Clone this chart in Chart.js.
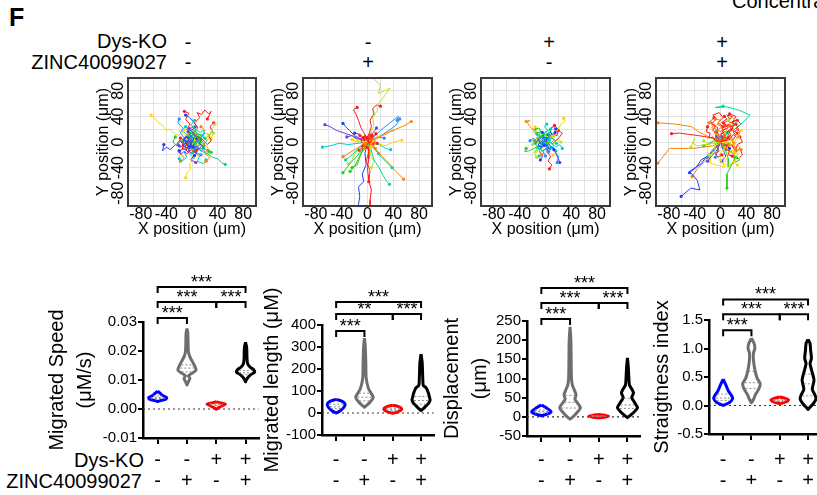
<!DOCTYPE html>
<html>
<head>
<meta charset="utf-8">
<title>Cell migration tracks and violin plots</title>
<script src="https://cdn.jsdelivr.net/npm/chart.js@4.4.1/dist/chart.umd.min.js"></script>
<style>
html, body { margin: 0; padding: 0; background: #fff; overflow: hidden; }
#fig { position: relative; width: 817px; height: 495px; overflow: hidden; font-family: 'Liberation Sans', Arial, sans-serif; color: #000; }
#fig canvas { position: absolute; left: 0; top: 0; }
.lbl { position: absolute; font-size: 20px; line-height: 20px; white-space: nowrap; }
.right { text-align: right; }
.sign { text-align: center; width: 30px; margin-left: -15px; }
</style>
</head>
<body>
<div id="fig">
  <div class="lbl" style="left:9px;top:5px;font-size:25px;line-height:25px;font-weight:bold;">F</div>
  <div class="lbl" style="left:732px;top:-9px;">Concentration</div>
  <div class="lbl right" style="left:0;width:167px;top:31px;">Dys-KO</div>
  <div class="lbl right" style="left:0;width:167px;top:52px;">ZINC40099027</div>
  <div class="lbl right" style="left:0;width:144px;top:450px;">Dys-KO</div>
  <div class="lbl right" style="left:0;width:142px;top:471px;">ZINC40099027</div>
</div>
<script>
// ---- groups ----
const dysKO = ['-', '-', '+', '+'];
const zinc = ['-', '+', '-', '+'];

// ---- track plots (um), each track is a flat x,y list starting at the origin ----
const trackGrid = [-100, -80, -60, -40, -20, 0, 20, 40, 60, 80, 100];
const trackTicks = [-80, -40, 0, 40, 80];

const tracksCtrl = [
  [0,0, 5,8, 2,15, 9,22, 4,30, 12,38, 8,46, 15,43, 20,50, 26,44, 30,48, 24,36],
  [0,0, 10,-6, 18,-2, 25,-10, 20,-18, 28,-24, 22,-30],
  [0,0, -8,5, -14,2, -20,10, -28,14, -35,20, -40,18, -46,26, -52,30, -58,37, -64,42],
  [0,0, 12,6, 20,14, 28,10, 32,22, 36,28],
  [0,0, -10,-4, -18,2, -24,-6, -30,0, -26,8],
  [0,0, 6,-8, 14,-14, 24,-18, 32,-24, 40,-26, 46,-32, 52,-35],
  [0,0, -6,-10, -12,-16, -8,-24, -16,-30, -20,-26],
  [0,0, -12,6, -18,14, -14,22, -22,30, -20,36],
  [0,0, -10,-2, -18,-8, -26,-4, -34,-12, -40,-8, -46,-14, -44,-4],
  [0,0, -6,-14, 4,-20, -2,-28, 6,-32],
  [0,0, -4,10, -8,20, -3,28, -10,35, -5,45, -12,48],
  [0,0, -14,-8, -20,-18, -12,-24, -18,-30],
  [0,0, 4,-10, -2,-18, 3,-26, -4,-34, -2,-42, -8,-48, -10,-56],
  [0,0, 14,10, 22,4, 26,12, 30,6, 34,14],
  [0,0, 8,-12, 16,-10, 22,-18, 30,-16],
  [0,0, -4,14, 6,20, -2,26, 4,34],
  [0,0, -14,4, -8,12, -16,18, -10,24],
  [0,0, 10,2, 4,-6, 12,-10, 6,-16, 14,-20],
  [0,0, 6,12, -2,18, 8,24, 2,32, -4,38, -10,42],
  [0,0, 6,-4, -4,-10, -10,-2, -6,8, 4,12, 12,6],
  [0,0, 16,4, 24,-4, 30,2, 26,10, 32,16, 28,24, 34,30],
  [0,0, 8,14, 16,8, 20,18, 14,24],
  [0,0, 12,-2, 18,6, 24,2, 28,10, 24,14, 30,4],
  [0,0, -6,6, -12,-2, -18,4, -22,-4],
  [0,0, -8,-8, 2,-12, 10,-6, 14,4, 6,10, 18,-10, 26,-14],
  [0,0, 4,-16, 12,-22, 8,-30, 18,-34, 22,-28],
  [0,0, -2,-8, 6,-14, -4,-18, 2,-24],
  [0,0, -8,10, 2,14, -6,20, 4,24],
  [0,0, 4,6, -4,8, -8,2, -4,-6, 6,-4, 10,4, 2,12, -6,16],
  [0,0, -10,8, -16,0, -12,-10, -20,-14]
];
const blobCtrl = [
  [0,0, 3,5, -2,9, -6,5, -9,9, -13,4, -9,-1, -14,-5, -8,-9, -3,-5, 2,-8],
  [0,0, -3,-5, 2,-9, 7,-6, 11,-11, 15,-6, 11,-1, 16,3, 12,8, 7,5],
  [0,0, 5,-2, 9,3, 5,8, 10,12, 5,16, 1,12, -4,16, -7,11, -3,6],
  [0,0, -5,2, -9,-3, -5,-8, -10,-12, -6,-16, -1,-12, 3,-17, 7,-13],
  [0,0, 2,6, 7,9, 3,14, 8,18, 13,15, 17,19, 20,14, 16,10],
  [0,0, -2,-6, -7,-9, -3,-14, -8,-18, -13,-15, -17,-19, -20,-14],
  [0,0, 6,3, 3,8, -3,7, -6,12, -11,10, -15,14, -12,19],
  [0,0, -6,-3, -3,-8, 3,-7, 6,-12, 11,-10, 15,-14, 18,-9],
  [0,0, 4,-4, 8,0, 12,-4, 16,1, 19,-3, 23,2, 20,6],
  [0,0, -4,4, -8,0, -12,4, -16,-1, -19,3, -23,-2, -20,-6],
  [0,0, 3,-3, 0,-7, 5,-10, 2,-14, 7,-17, 4,-21],
  [0,0, -3,3, 0,7, -5,10, -2,14, -7,17, -4,21],
  [0,0, 7,-1, 5,5, 11,6, 9,12, 15,11, 13,-3, 18,-6],
  [0,0, -7,1, -5,-5, -11,-6, -9,-12, -15,-11, -13,3, -18,6],
  [0,0, 2,2, 6,-2, 4,-6, 8,-8, 12,-4, 10,2, 6,4, 2,8],
  [0,0, -2,-2, -6,2, -4,6, -8,8, -12,4, -10,-2, -6,-4, -2,-8]
];

const tracksZinc = [
  [0,0, 6,4, -2,8, 2,-15, -2,-30, 4,-45, 2,-60, 6,-75, 4,-90, 4,-104],
  [0,0, 12,-10, 22,-22, 34,-34, 44,-46, 56,-58],
  [0,0, 14,-2, 28,-6, 40,0, 53,3],
  [0,0, 4,12, 10,26, 8,38, 16,50, 14,56, 22,66, 35,84, 17,76, 20,89, 8,100, 6,106],
  [0,0, -8,-12, -16,-22, -24,-30, -32,-40, -38,-48],
  [0,0, 6,-14, 10,-28, 18,-40, 24,-52, 30,-62, 34,-66],
  [0,0, -14,-2, -30,-4, -44,-2, -58,-6, -70,-8],
  [0,0, 10,8, 20,18, 30,26, 40,34, 48,40, 46,34],
  [0,0, -4,-18, -2,-35, -8,-50, -6,-62, -14,-70, -12,-85, -15,-104],
  [0,0, -12,4, -24,10, -36,14, -48,18, -58,24, -66,27],
  [0,0, 2,12, 6,24, 4,34, 10,44, 8,52, 14,58, 20,56],
  [0,0, 16,6, 30,14, 44,20, 58,26, 68,32],
  [0,0, 10,6, 20,10, 30,12, 38,18],
  [0,0, -10,-8, -18,-16, -24,-28, -30,-34],
  [0,0, -8,-14, -14,-26, -20,-38, -27,-46],
  [0,0, 8,-8, 14,-14, 18,-20, 24,-26, 32,-34, 38,-40],
  [0,0, 6,-6, 12,-12, 17,-18],
  [0,0, 12,6, 24,12, 36,20, 44,26, 50,36],
  [0,0, -10,4, -20,10, -28,18, -34,24, -38,29],
  [0,0, -8,6, -16,4, -24,10, -32,8],
  [0,0, -4,12, -10,22, -14,34, -18,44, -22,50, -16,54],
  [0,0, -10,-6, -20,-12, -30,-18, -38,-23],
  [0,0, -8,2, -16,0, -24,4],
  [0,0, 6,-10, 4,-20, 10,-30, 6,-40],
  [0,0, -6,-10, -12,-24, -16,-36, -24,-40],
  [0,0, -10,-6, -18,-14, -26,-22, -34,-28],
  [0,0, 8,-2, 18,-4, 28,-10, 36,-12],
  [0,0, 8,4, 16,8, 26,6],
  [0,0, -6,6, -12,12, -20,14],
  [0,0, 4,10, 10,16, 14,22],
  [0,0, -8,6, 4,10, -6,-6, 10,-4, 2,-12, 2,-26, 0,-40, 1,-52, 2,-62]
];
const blobZinc = [
  [0,0, 3,4, -2,6, -5,2, -8,5, -10,1, -6,-3, -9,-7, -4,-6, 0,-9],
  [0,0, -2,-4, 3,-6, 6,-3, 9,-7, 12,-3, 8,0, 12,3, 8,6, 4,3],
  [0,0, 4,-1, 7,3, 3,6, 7,9, 3,12, -1,8, -4,11, -6,7],
  [0,0, -4,1, -7,-3, -3,-6, -7,-9, -3,-12, 1,-8, 4,-11, 6,-7],
  [0,0, 2,5, 6,7, 2,10, 6,13, 10,10, 13,13],
  [0,0, -2,-5, -6,-7, -2,-10, -6,-13, -10,-10, -13,-13],
  [0,0, 5,2, 2,6, -3,5, -5,9, -9,7, -12,10],
  [0,0, -5,-2, -2,-6, 3,-5, 5,-9, 9,-7, 12,-10],
  [0,0, 3,-3, 6,0, 9,-3, 12,1, 15,-2],
  [0,0, -3,3, -6,0, -9,3, -12,-1, -15,2],
  [0,0, 6,1, 4,5, 9,5, 7,9],
  [0,0, -6,-1, -4,-5, -9,-5, -7,-9]
];

const tracksKO = [
  [0,0, 4,-8, 2,-16, 8,-22, 4,-30, 10,-36, 6,-42],
  [0,0, -6,6, -12,12, -18,18, -24,24, -28,30, -24,34, -30,32],
  [0,0, 8,6, 14,14, 20,20, 24,28, 30,32, 28,37],
  [0,0, -8,-4, -14,2, -20,-4],
  [0,0, -10,-6, -18,-10, -26,-14, -32,-15, -30,-10],
  [0,0, 6,10, 0,16, 8,20],
  [0,0, -4,12, 4,18, -2,24, 2,28],
  [0,0, 8,-6, 14,-14, 20,-22, 18,-32],
  [0,0, 6,-4, 12,-10, 16,-18, 20,-26, 22,-32],
  [0,0, -6,-4, -10,4, -16,0],
  [0,0, 10,6, 16,2, 22,8, 26,14, 20,18],
  [0,0, -4,-8, -10,-14, -6,-20],
  [0,0, -10,4, -14,12, -20,16, -16,24],
  [0,0, 12,-4, 18,4, 24,0],
  [0,0, 2,10, -6,14, -10,22, -16,20],
  [0,0, -8,-12, -2,-18, -10,-22],
  [0,0, 10,-2, 16,-8, 22,-4, 26,-10],
  [0,0, -12,-2, -18,6, -24,2],
  [0,0, 4,8, 10,12, 6,20, 12,24, 16,20],
  [0,0, 6,4, 2,-6, -4,-2],
  [0,0, 12,12, 18,10, 20,20, 14,26],
  [0,0, -6,10, -12,6],
  [0,0, 8,-10, 4,-16, 12,-20],
  [0,0, -12,-10, -18,-16, -14,-24],
  [0,0, -4,6, -10,10, -8,16, -14,14],
  [0,0, 6,-12, 12,-8, 16,-14],
  [0,0, -8,2, -4,-6, -12,-8, -16,-2],
  [0,0, 2,-10, -4,-14, 0,-22],
  [0,0, -6,-6, -10,-14, -4,-22, -8,-28],
  [0,0, 10,8, 4,12]
];
const blobKO = [
  [0,0, 3,5, -2,8, -6,4, -9,7, -12,3, -8,-1, -12,-5, -7,-8, -2,-5],
  [0,0, -3,-5, 2,-8, 6,-5, 10,-9, 13,-5, 9,-1, 13,3, 9,7, 5,4],
  [0,0, 5,-2, 8,3, 4,7, 8,11, 4,14, 0,10, -4,13, -6,9],
  [0,0, -5,2, -8,-3, -4,-7, -8,-11, -4,-14, 0,-10, 4,-14, 7,-10],
  [0,0, 2,5, 6,8, 2,12, 7,15, 11,12, 15,15],
  [0,0, -2,-5, -6,-8, -2,-12, -7,-15, -11,-12, -15,-15],
  [0,0, 5,2, 2,7, -3,6, -5,10, -10,8, -13,12],
  [0,0, -5,-2, -2,-7, 3,-6, 5,-10, 10,-8, 13,-12],
  [0,0, 4,-3, 7,0, 11,-3, 14,1, 17,-2],
  [0,0, -4,3, -7,0, -11,3, -14,-1, -17,2],
  [0,0, 2,-3, 0,-6, 4,-9, 1,-12, 5,-15],
  [0,0, -2,3, 0,6, -4,9, -1,12, -5,15],
  [0,0, 6,-1, 4,4, 9,5, 8,10, 12,9],
  [0,0, -6,1, -4,-4, -9,-5, -8,-10, -12,-9]
];

const tracksKOZinc = [
  [0,0, 8,10, 2,18, 12,22, 6,30, 14,36, 10,42, 18,40, 12,32, 22,28, 16,20, 26,14],
  [0,0, -10,4, -22,10, -34,16, -45,24, -70,28, -97,30],
  [0,0, 6,-10, -2,-20, 10,-26, 4,-34, 14,-38, 20,-30, 26,-36],
  [0,0, -12,-2, -24,-4, -36,-6, -43,-2, -40,6, -46,-8],
  [0,0, 8,-14, 12,-26, 12,-39, 18,-34, 30,-28, 24,-22, 10,-50, 10,-72],
  [0,0, 8,12, 16,18, 20,19, 30,26, 46,42, 28,50, 10,55, -8,54, 4,56],
  [0,0, -6,-8, -12,-16, -18,-20],
  [0,0, -8,-10, -14,-18, -20,-24],
  [0,0, -8,-8, -14,-16, -22,-23, -30,-34, -48,-46, -36,-60, -32,-75, -46,-72, -61,-85],
  [0,0, -6,-14, -14,-22, -20,-30],
  [0,0, -10,6, -22,8, -34,10, -50,12, -64,14, -76,13],
  [0,0, -12,-6, -26,-8, -43,-10, -60,-10, -79,-10, -97,-33],
  [0,0, -6,-12, -16,-22, -16,-33, -6,-36, 7,-39, 0,-28],
  [0,0, -12,-2, -18,-4, -26,2],
  [0,0, -10,2, -18,-2, -26,-6],
  [0,0, 4,8, 10,14],
  [0,0, 6,-6, 12,-4],
  [0,0, -4,-12, -8,-24],
  [0,0, -10,-12, -20,-22, -30,-28, -38,-40, -48,-48],
  [0,0, 4,-8],
  [0,0, 14,4, 20,12, 26,6, 30,16, 24,22, 32,28, 26,34, 18,30, 24,40, 14,44],
  [0,0, 10,-8, 18,-4, 24,-12],
  [0,0, 12,-14, 20,-20, 28,-18, 22,-28],
  [0,0, 8,4, 14,-2],
  [0,0, 10,-10, 18,-16, 24,-24],
  [0,0, 6,-4],
  [0,0, 2,-8, 8,-12],
  [0,0, -2,10, -6,16],
  [0,0, 4,-12, 8,-22, 2,-30],
  [0,0, -6,8],
  [0,0, -8,12, -4,22, -14,28, -6,36, -12,42, -2,46, 4,38, -4,30, 4,24],
  [0,0, 16,10, 20,0],
  [0,0, 14,-6, 22,-2],
  [0,0, -6,10],
  [0,0, 12,8],
  [0,0, -4,6],
  [0,0, 4,4],
  [0,0, 6,10],
  [0,0, 8,-4, 14,-10],
  [0,0, 2,8],
  [0,0, 18,-6, 24,-16, 30,-10, 34,-20, 28,-26, 20,-24, 26,-4, 34,0, 30,8],
  [0,0, -14,-14, -24,-30, -36,-42, -44,-54]
];
const blobKOZinc = [
  [0,0, 4,6, 0,12, 6,16, 2,22, 8,26, 4,32, 10,36, 6,40],
  [0,0, 8,4, 14,10, 10,16, 18,18, 14,24, 22,26, 18,32, 26,34],
  [0,0, -6,6, -2,12, -10,14, -6,20, -14,22, -10,28, -18,30],
  [0,0, 10,-2, 16,4, 22,0, 26,8, 30,4, 28,14, 32,18],
  [0,0, 4,-6, 10,-4, 8,-12, 14,-14, 12,-20, 18,-22],
  [0,0, -4,-4, -10,-2, -8,-10, -14,-12, -12,-18, -18,-20],
  [0,0, 6,8, 12,4, 16,12, 12,18, 20,22, 14,28, 8,24, 4,30],
  [0,0, -2,8, 4,14, -4,18, 2,24, -6,28, 0,34, -8,36],
  [0,0, 12,6, 18,2, 24,10, 20,16, 28,20, 24,28],
  [0,0, -8,2, -12,8, -18,6, -16,14, -22,16, -20,24],
  [0,0, 6,2, 2,6, 8,10, 4,14, 10,18, 6,22, 12,26],
  [0,0, 2,-4, 8,-8, 4,-14, 10,-18, 16,-12, 22,-16],
  [0,0, -6,-8, -2,-14, -8,-18, -4,-24, 2,-20],
  [0,0, 14,14, 20,20, 16,26, 24,30, 20,38, 12,34],
  [0,0, -4,14, -12,18, -8,26, -16,32, -10,38],
  [0,0, 10,0, 14,-6, 20,-4, 24,-10, 28,-6, 32,-12]
];

// ---- violin plots: each shape is [value, half width in group units], top to bottom ----
const speedTicks = [-0.01, 0, 0.01, 0.02, 0.03];
const speedShapes = [
  [[0.0062,0],[0.0055,0.08],[0.0048,0.15],[0.0043,0.24],[0.0039,0.31],[0.0034,0.28],[0.003,0.14],[0.0026,0]],
  [[0.0278,0],[0.026,0.03],[0.0198,0.05],[0.018,0.1],[0.0157,0.22],[0.0134,0.31],[0.0123,0.17],[0.0114,0.05],[0.0106,0.1],[0.0094,0.05],[0.0083,0]],
  [[0.0025,0],[0.0021,0.15],[0.0017,0.31],[0.0012,0.22],[0.0006,0.1],[-0.0001,0]],
  [[0.023,0],[0.021,0.04],[0.0175,0.05],[0.0157,0.07],[0.0145,0.15],[0.0135,0.28],[0.0127,0.31],[0.0118,0.17],[0.0106,0.06],[0.0094,0]]
];
const speedQuart = [[0.0036, 0.004, 0.0045], [0.0128, 0.0141, 0.0152], [0.0012, 0.0015, 0.0018], [0.0118, 0.0125, 0.0133]];
const speedSig = [[0, 3, 0.0421, '***'], [0, 2, 0.0369, '***'], [2, 3, 0.0369, '***'], [0, 1, 0.0314, '***']];

const lengthTicks = [-100, 0, 100, 200, 300, 400];
const lengthShapes = [
  [[62,0],[55,0.18],[45,0.3],[35,0.31],[22,0.25],[10,0.15],[0,0]],
  [[340,0],[300,0.03],[220,0.05],[160,0.06],[112,0.14],[89,0.24],[71,0.31],[51,0.21],[36,0.09],[26,0]],
  [[36,0],[30,0.18],[22,0.3],[15,0.31],[8,0.22],[2,0.1],[-1,0]],
  [[268,0],[230,0.04],[160,0.06],[125,0.08],[114,0.18],[91,0.26],[70,0.3],[59,0.32],[45,0.27],[36,0.2],[20,0.08],[11,0]]
];
const lengthQuart = [[20, 28, 40], [55, 72, 90], [12, 17, 22], [40, 57, 75]];
const lengthSig = [[0, 3, 505, '***'], [0, 2, 450, '**'], [2, 3, 450, '***'], [0, 1, 373, '***']];

const dispTicks = [-50, 0, 50, 100, 150, 200, 250];
const dispShapes = [
  [[31,0],[27,0.1],[22,0.2],[17,0.3],[13,0.34],[8,0.24],[3,0]],
  [[235,0],[200,0.03],[140,0.04],[100,0.05],[83,0.08],[70,0.15],[57,0.21],[46,0.17],[33,0.29],[23,0.36],[10,0.23],[-1,0.09],[-6,0]],
  [[6,0],[4,0.2],[2,0.34],[-1,0.2],[-3,0]],
  [[154,0],[130,0.03],[100,0.05],[83,0.07],[70,0.17],[62,0.21],[50,0.15],[36,0.26],[24,0.35],[14,0.25],[3,0.09],[-2,0]]
];
const dispQuart = [[10, 14, 18], [23, 38, 56], [1, 2, 3], [22, 31, 48]];
const dispSig = [[0, 3, 336, '***'], [0, 2, 297, '***'], [2, 3, 297, '***'], [0, 1, 255, '***']];

const straightTicks = [-0.5, 0, 0.5, 1, 1.5];
const straightShapes = [
  [[0.465,0],[0.366,0.09],[0.25,0.19],[0.162,0.31],[0.116,0.33],[0.058,0.24],[0,0]],
  [[1.18,0],[1.09,0.094],[1.0,0.12],[0.92,0.07],[0.8,0.07],[0.63,0.12],[0.48,0.2],[0.383,0.31],[0.29,0.26],[0.19,0.14],[0.105,0.07],[0.047,0]],
  [[0.15,0],[0.13,0.17],[0.1,0.31],[0.07,0.25],[0.045,0.1],[0.035,0]],
  [[1.16,0],[1.09,0.07],[0.95,0.094],[0.83,0.12],[0.74,0.07],[0.63,0.12],[0.45,0.21],[0.37,0.18],[0.28,0.15],[0.19,0.24],[0.116,0.28],[0.035,0.19],[-0.04,0.05],[-0.07,0]]
];
const straightQuart = [[0.09, 0.13, 0.2], [0.3, 0.4, 0.6], [0.07, 0.085, 0.1], [0.17, 0.38, 0.55]];
const straightSig = [[0, 3, 1.86, '***'], [0, 2, 1.6, '***'], [2, 3, 1.6, '***'], [0, 1, 1.32, '***']];

// ---- drawing ----
const FAMILY = "'Liberation Sans', Arial, sans-serif";
const W = 900, H = 495;
const palette = ['#ff1a1a', '#ff8000', '#ffd500', '#b4e61e', '#22cc22', '#00d98c', '#00cccc', '#2a8cff', '#1f3cff', '#6a3fd6'];
const violinColors = ['#0000ff', '#6e6e6e', '#ff0000', '#000000'];
const xMin = -0.5, xMax = 3.45;

Chart.defaults.font.family = FAMILY;
Chart.defaults.color = '#000';

const fig = document.getElementById('fig');
function addCanvas(id) {
  const c = document.createElement('canvas');
  c.id = id; c.width = W; c.height = H;
  c.style.width = W + 'px'; c.style.height = H + 'px';
  fig.appendChild(c);
  return c;
}

// column headers above the track plots
const headerX = [188, 368, 549, 722];
headerX.forEach((x, i) => {
  [[dysKO[i], 32], [zinc[i], 52]].forEach(([s, top]) => {
    const d = document.createElement('div');
    d.className = 'lbl sign';
    d.style.left = x + 'px';
    d.style.top = top + 'px';
    d.textContent = s;
    fig.appendChild(d);
  });
});

function pairs(flat) {
  const out = [];
  for (let i = 0; i < flat.length; i += 2) out.push({x: flat[i], y: flat[i + 1]});
  return out;
}

const framePlugin = {
  id: 'frame',
  afterDraw(chart) {
    const a = chart.chartArea, c = chart.ctx;
    c.save();
    c.strokeStyle = '#3a3a3a';
    c.lineWidth = 2;
    c.strokeRect(a.left, a.top, a.right - a.left, a.bottom - a.top);
    c.restore();
  }
};

// y tick labels of the track plots are rotated like the axis title
const rotLabels = {
  id: 'rotLabels',
  afterDraw(chart) {
    const s = chart.scales.y, c = chart.ctx;
    c.save();
    c.font = '16px ' + FAMILY;
    c.fillStyle = '#000';
    c.textAlign = 'center';
    c.textBaseline = 'middle';
    trackTicks.forEach(v => {
      c.save();
      c.translate(chart.chartArea.left - 9, s.getPixelForValue(v));
      c.rotate(-Math.PI / 2);
      c.fillText(String(v), 0, 0);
      c.restore();
    });
    c.restore();
  }
};

function trackSet(t, col) {
  const pts = pairs(t);
  return {
    data: pts, borderColor: col, backgroundColor: col, borderWidth: 1,
    pointRadius: pts.map((p, k) => k === pts.length - 1 ? 1.6 : 0),
    pointBorderWidth: 0, showLine: true, tension: 0
  };
}

function trackChart(id, tracks, blob, blobColors, box) {
  // dense centre tracks first so they sit on top of the long ones
  const datasets = blob.map((t, i) => trackSet(t, blobColors[i % blobColors.length]))
    .concat(tracks.map((t, i) => trackSet(t, palette[i % palette.length])));
  new Chart(addCanvas(id), {
    type: 'scatter',
    data: { datasets },
    options: {
      responsive: false, animation: false, events: [], devicePixelRatio: 1,
      layout: { padding: { left: box.l - 34, top: box.t, right: W - box.r, bottom: H - box.b - 34 } },
      plugins: { legend: { display: false }, tooltip: { enabled: false } },
      scales: {
        x: {
          type: 'linear', min: -100, max: 100,
          afterBuildTicks: s => { s.ticks = trackGrid.map(v => ({value: v})); },
          afterFit: s => { s.height = 34; },
          grid: { color: '#e2e2e2', drawTicks: false },
          border: { display: false },
          ticks: {
            autoSkip: false, maxRotation: 0, minRotation: 0, padding: 1,
            font: { size: 16, lineHeight: 1 },
            callback: v => trackTicks.includes(v) ? String(v) : ''
          },
          title: { display: true, text: 'X position (μm)', font: { size: 16, lineHeight: 1 }, padding: { top: 0, bottom: 2 } }
        },
        y: {
          type: 'linear', min: -100, max: 100,
          afterBuildTicks: s => { s.ticks = trackGrid.map(v => ({value: v})); },
          afterFit: s => { s.width = 34; },
          grid: { color: '#e2e2e2', drawTicks: false },
          border: { display: false },
          ticks: { display: false, autoSkip: false },
          title: { display: true, text: 'Y position (μm)', font: { size: 16, lineHeight: 1 }, padding: { top: 2, bottom: 0 } }
        }
      }
    },
    plugins: [framePlugin, rotLabels]
  });
}

// significance brackets above the violins
const bracketPlugin = {
  id: 'brackets',
  afterDraw(chart, args, opts) {
    const c = chart.ctx, xs = chart.scales.x, ys = chart.scales.y;
    c.save();
    c.strokeStyle = '#000';
    c.fillStyle = '#000';
    c.lineWidth = 2;
    c.font = '18px ' + FAMILY;
    c.textAlign = 'center';
    c.textBaseline = 'alphabetic';
    (opts.items || []).forEach(([a, b, v, label]) => {
      const x1 = xs.getPixelForValue(a), x2 = xs.getPixelForValue(b), y = ys.getPixelForValue(v);
      c.beginPath();
      c.moveTo(x1, y + 6);
      c.lineTo(x1, y);
      c.lineTo(x2, y);
      c.lineTo(x2, y + 6);
      c.stroke();
      c.fillText(label, (x1 + x2) / 2, y + 1);
    });
    c.restore();
  }
};

function outline(g, shape) {
  const right = shape.map(([y, w]) => ({x: g + w, y}));
  const left = shape.slice().reverse().map(([y, w]) => ({x: g - w, y}));
  return right.concat(left);
}

function widthAt(shape, v) {
  for (let i = 0; i < shape.length - 1; i++) {
    const [y0, w0] = shape[i], [y1, w1] = shape[i + 1];
    if (v <= y0 && v >= y1) return w0 + (w1 - w0) * (y0 - v) / (y0 - y1);
  }
  return 0;
}

function violinChart(id, shapes, quarts, yTicks, decimals, sig, title, pos) {
  const right = pos.l + (xMax - xMin) * pos.step;
  const datasets = [{
    data: [{x: xMin, y: 0}, {x: xMax, y: 0}],
    borderColor: '#333', borderWidth: 1.2, borderDash: [2, 3], pointRadius: 0, order: 9
  }];
  shapes.forEach((shape, g) => {
    datasets.push({
      data: outline(g, shape), borderColor: violinColors[g], backgroundColor: '#fff',
      borderWidth: 3, fill: 'shape', tension: 0.25, pointRadius: 0, order: 2,
      borderJoinStyle: 'round'
    });
    quarts[g].forEach(q => {
      const w = widthAt(shape, q) * 0.8;
      datasets.push({
        data: [{x: g - w, y: q}, {x: g + w, y: q}],
        borderColor: '#8c8c8c', borderWidth: 1, borderDash: [2, 2], pointRadius: 0, order: 1
      });
    });
  });
  new Chart(addCanvas(id), {
    type: 'line',
    data: { datasets },
    options: {
      responsive: false, animation: false, events: [], devicePixelRatio: 1,
      layout: { padding: { left: pos.l - pos.yw, top: pos.t, right: W - right, bottom: H - pos.b - 50 } },
      plugins: { legend: { display: false }, tooltip: { enabled: false }, brackets: { items: sig } },
      scales: {
        x: {
          type: 'linear', min: xMin, max: xMax,
          afterBuildTicks: s => { s.ticks = dysKO.map((_, i) => ({value: i})); },
          afterFit: s => { s.height = 50; },
          grid: { drawOnChartArea: false, tickLength: 6, color: '#000', lineWidth: 2 },
          border: { color: '#000', width: 2.5 },
          ticks: {
            autoSkip: false, maxRotation: 0, minRotation: 0, padding: pos.pad,
            font: { size: 20, lineHeight: 1.05 },
            callback: v => [dysKO[v], zinc[v]]
          }
        },
        y: {
          type: 'linear', min: yTicks[0], max: yTicks[yTicks.length - 1],
          afterBuildTicks: s => { s.ticks = yTicks.map(v => ({value: v})); },
          afterFit: s => { s.width = pos.yw; },
          grid: { drawOnChartArea: false, tickLength: 5, color: '#000', lineWidth: 2 },
          border: { color: '#000', width: 2.5 },
          ticks: { autoSkip: false, padding: 1, font: { size: 15 }, callback: v => Number(v).toFixed(decimals) },
          title: { display: true, text: title, font: { size: 20, lineHeight: 1.4 }, padding: { top: 3, bottom: 0 } }
        }
      }
    },
    plugins: [bracketPlugin]
  });
}

trackChart('trackCtrl', tracksCtrl, blobCtrl,
  ['#1f3cff', '#6a3fd6', '#22cc22', '#ff1a1a', '#00cccc', '#1f3cff', '#ffd500', '#2a8cff', '#00d98c', '#6a3fd6'],
  { l: 128, r: 256, t: 78, b: 206 });
trackChart('trackZinc', tracksZinc, blobZinc,
  ['#ff1a1a', '#ff8000', '#ff1a1a', '#ffd500', '#ff1a1a', '#e04010'],
  { l: 303, r: 432, t: 78, b: 206 });
trackChart('trackKO', tracksKO, blobKO,
  ['#1f3cff', '#00cccc', '#22cc22', '#2a8cff', '#1f3cff', '#b4e61e', '#00d98c'],
  { l: 481, r: 610, t: 78, b: 206 });
trackChart('trackKOZinc', tracksKOZinc, blobKOZinc,
  ['#ff1a1a', '#ff1a1a', '#ff8000', '#ffd500', '#ff1a1a', '#b4e61e', '#ff1a1a', '#ff8000'],
  { l: 656, r: 785, t: 78, b: 206 });

violinChart('speed', speedShapes, speedQuart, speedTicks, 2, speedSig,
  ['Migrated Speed', '(μM/s)'], { l: 143, t: 322, b: 438, step: 29.3, yw: 103, pad: 5.5 });
violinChart('length', lengthShapes, lengthQuart, lengthTicks, 0, lengthSig,
  'Migrated length (μM)', { l: 322, t: 325, b: 435, step: 28.3, yw: 67, pad: 8.5 });
violinChart('disp', dispShapes, dispQuart, dispTicks, 0, dispSig,
  ['Displacement', '(μm)'], { l: 527, t: 321, b: 436, step: 28.7, yw: 92, pad: 7.5 });
violinChart('straight', straightShapes, straightQuart, straightTicks, 1, straightSig,
  'Straigtness index', { l: 709, t: 320, b: 434, step: 28.3, yw: 64, pad: 9.5 });
</script>
</body>
</html>
